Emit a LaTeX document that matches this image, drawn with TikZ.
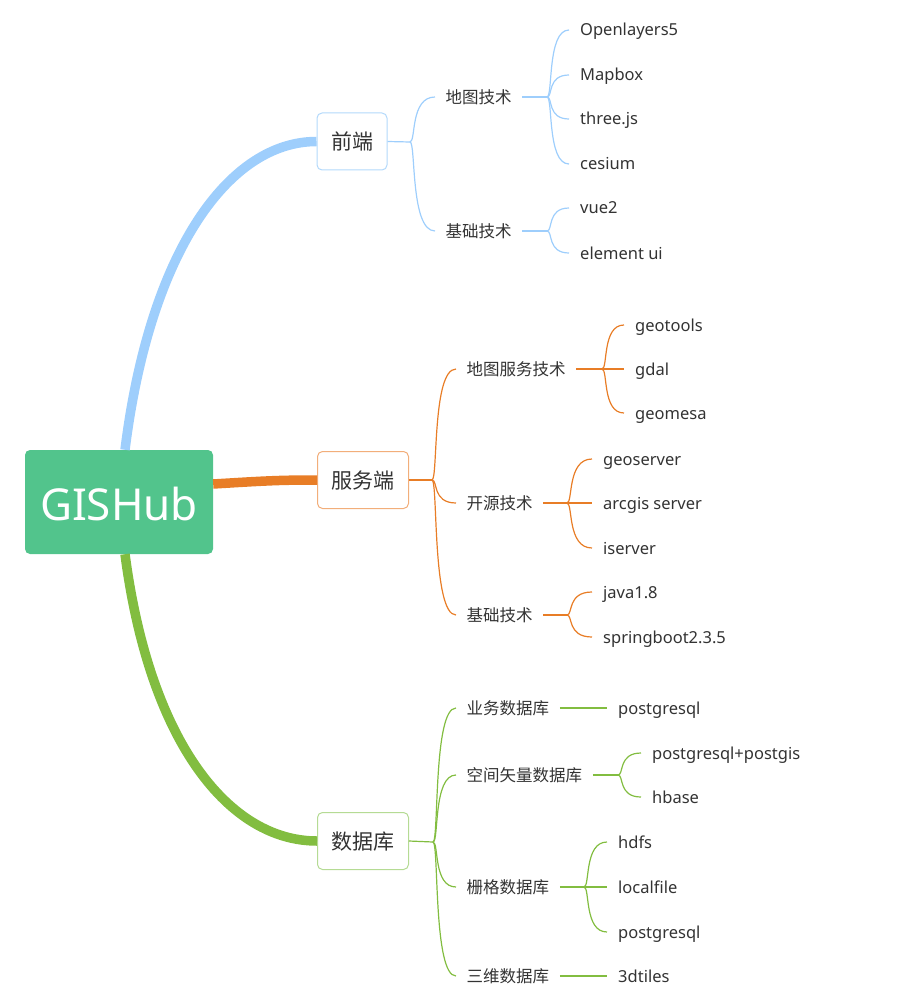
\documentclass[tikz,border=0pt]{standalone}
\usepackage{fontspec}
\setmainfont{Noto Sans}
\newfontfamily\cjk{Noto Sans CJK SC}
\definecolor{rootg}{HTML}{52C48C}
\definecolor{blueT}{HTML}{9ECEFC}
\definecolor{blueB}{HTML}{B3D9FB}
\definecolor{orT}{HTML}{E87D26}
\definecolor{orB}{HTML}{F2AE7A}
\definecolor{grT}{HTML}{82BD40}
\definecolor{grB}{HTML}{B5DB94}
\definecolor{txt}{HTML}{333333}
\tikzset{
 rootbox/.style={fill=rootg, rounded corners=5pt, minimum width=188pt, minimum height=104pt, text=white, font=\fontsize{44}{50}\selectfont, inner sep=0pt, text height=37pt, text depth=0pt},
 topbox/.style={draw=#1, fill=white, line width=1pt, rounded corners=5pt, minimum height=57pt, inner xsep=14pt, text=txt, font=\cjk\fontsize{21}{25}\selectfont, text height=18.5pt, text depth=2.5pt},
 secnode/.style={anchor=west, inner xsep=10.5pt, inner ysep=0pt, text=txt, font=\cjk\fontsize{16.5}{20}\selectfont, text height=14.5pt, text depth=2pt},
 leafnode/.style={anchor=west, inner xsep=11pt, inner ysep=0pt, text=txt, font=\fontsize{16.5}{20}\selectfont, text height=14pt, text depth=2pt},
 thickline/.style={line width=9.5pt, draw=#1},
 thinline/.style={line width=1.2pt, draw=#1},
}
\begin{document}
\begin{tikzpicture}[x=1pt,y=-1pt]
\useasboundingbox (0,0) rectangle (909,1000);
% main nodes
\node[rootbox] (root) at (119,502) {GISHub};
\node[topbox=blueB] (fe) at (352,141.5) {前端};
\node[topbox=orB] (se) at (363,480) {服务端};
\node[topbox=grB] (db) at (363,841) {数据库};
% secondary
\node[secnode] (fe1) at (435,97) {地图技术};
\node[secnode] (fe2) at (435,231) {基础技术};
\node[secnode] (se1) at (456,369) {地图服务技术};
\node[secnode] (se2) at (456,503) {开源技术};
\node[secnode] (se3) at (456,615) {基础技术};
\node[secnode] (db1) at (456,708) {业务数据库};
\node[secnode] (db2) at (456,775) {空间矢量数据库};
\node[secnode] (db3) at (456,887) {栅格数据库};
\node[secnode] (db4) at (456,976) {三维数据库};
% leaves
\node[leafnode] (a1) at (569,30) {Openlayers5};
\node[leafnode] (a2) at (569,75) {Mapbox};
\node[leafnode] (a3) at (569,119) {three.js};
\node[leafnode] (a4) at (569,164) {cesium};
\node[leafnode] (b1) at (569,208) {vue2};
\node[leafnode] (b2) at (569,253) {element ui};
\node[leafnode] (c1) at (624,325) {geotools};
\node[leafnode] (c2) at (624,369) {gdal};
\node[leafnode] (c3) at (624,413) {geomesa};
\node[leafnode] (d1) at (592,459) {geoserver};
\node[leafnode] (d2) at (592,503) {arcgis server};
\node[leafnode] (d3) at (592,548) {iserver};
\node[leafnode] (e1) at (592,592) {java1.8};
\node[leafnode] (e2) at (592,637) {springboot2.3.5};
\node[leafnode] (f1) at (607,708) {postgresql};
\node[leafnode] (g1) at (641,753) {postgresql+postgis};
\node[leafnode] (g2) at (641,797) {hbase};
\node[leafnode] (h1) at (607,842) {hdfs};
\node[leafnode] (h2) at (607,887) {localfile};
\node[leafnode] (h3) at (607,932) {postgresql};
\node[leafnode] (i1) at (607,976) {3dtiles};
% junctions
\coordinate (jfe) at (410,142);
\coordinate (jfe1) at (547,97);
\coordinate (jfe2) at (547,231);
\coordinate (jse) at (432,480);
\coordinate (jse1) at (602,369);
\coordinate (jse2) at (567,503);
\coordinate (jse3) at (567,615);
\coordinate (jdb) at (433,842);
\coordinate (jdb2) at (618,775);
\coordinate (jdb3) at (584,887);
% thick connectors
\draw[thickline=blueT] ([xshift=6pt]root.north) .. controls +(25,-200) and +(-87,0) .. (fe.west);
\draw[thickline=orT] ([yshift=18pt]root.east) .. controls +(50,-3) and +(-40,0) .. (se.west);
\draw[thickline=grT] ([xshift=6pt]root.south) .. controls +(25,190) and +(-87,0) .. (db.west);
% front-end thin
\draw[thinline=blueT] (fe.east) -- (jfe);
\foreach \c in {fe1,fe2} \draw[thinline=blueT] (jfe) .. controls +(6,0) and (jfe |- \c.west) .. (\c.west);
\draw[thinline=blueT] (fe1.east) -- (jfe1);
\foreach \c in {a1,a2,a3,a4} \draw[thinline=blueT] (jfe1) .. controls +(6,0) and (jfe1 |- \c.west) .. (\c.west);
\draw[thinline=blueT] (fe2.east) -- (jfe2);
\foreach \c in {b1,b2} \draw[thinline=blueT] (jfe2) .. controls +(6,0) and (jfe2 |- \c.west) .. (\c.west);
% server thin
\draw[thinline=orT] (se.east) -- (jse);
\foreach \c in {se1,se2,se3} \draw[thinline=orT] (jse) .. controls +(6,0) and (jse |- \c.west) .. (\c.west);
\draw[thinline=orT] (se1.east) -- (jse1);
\foreach \c in {c1,c2,c3} \draw[thinline=orT] (jse1) .. controls +(6,0) and (jse1 |- \c.west) .. (\c.west);
\draw[thinline=orT] (se2.east) -- (jse2);
\foreach \c in {d1,d2,d3} \draw[thinline=orT] (jse2) .. controls +(6,0) and (jse2 |- \c.west) .. (\c.west);
\draw[thinline=orT] (se3.east) -- (jse3);
\foreach \c in {e1,e2} \draw[thinline=orT] (jse3) .. controls +(6,0) and (jse3 |- \c.west) .. (\c.west);
% database thin
\draw[thinline=grT] (db.east) -- (jdb);
\foreach \c in {db1,db2,db3,db4} \draw[thinline=grT] (jdb) .. controls +(6,0) and (jdb |- \c.west) .. (\c.west);
\draw[thinline=grT] (db1.east) -- (f1.west);
\draw[thinline=grT] (db2.east) -- (jdb2);
\foreach \c in {g1,g2} \draw[thinline=grT] (jdb2) .. controls +(6,0) and (jdb2 |- \c.west) .. (\c.west);
\draw[thinline=grT] (db3.east) -- (jdb3);
\foreach \c in {h1,h2,h3} \draw[thinline=grT] (jdb3) .. controls +(6,0) and (jdb3 |- \c.west) .. (\c.west);
\draw[thinline=grT] (db4.east) -- (i1.west);
\end{tikzpicture}
\end{document}
